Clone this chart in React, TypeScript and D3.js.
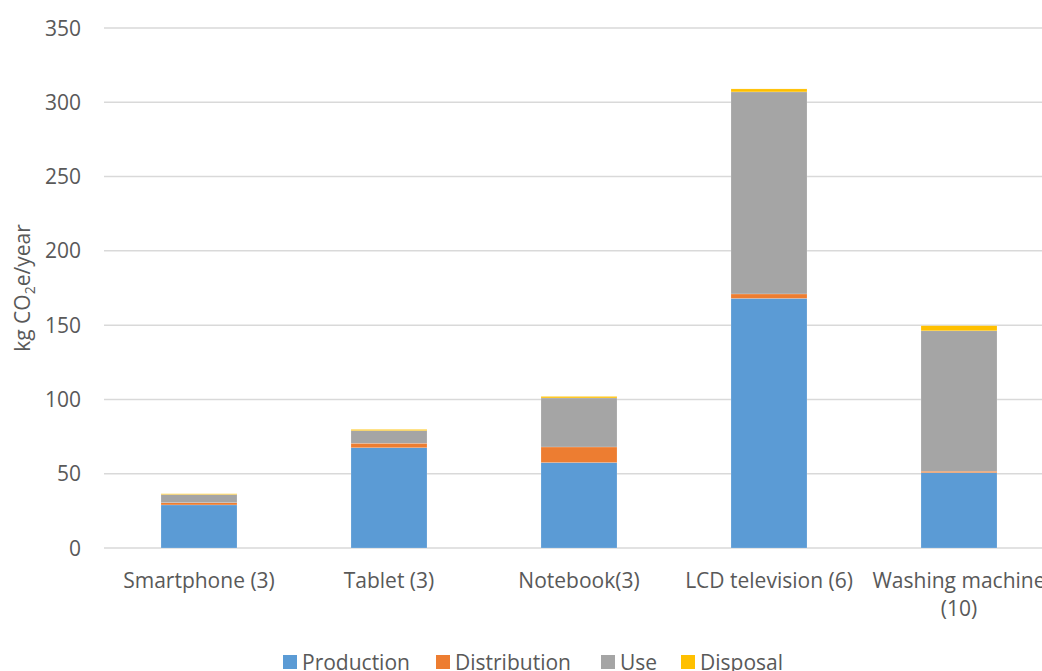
import React from "react";
import * as d3 from "d3";

const categories = [
  ["Smartphone (3)"],
  ["Tablet (3)"],
  ["Notebook(3)"],
  ["LCD television (6)"],
  ["Washing machine", "(10)"],
];
const seriesNames = ["Production", "Distribution", "Use", "Disposal"];
const seriesColors = ["#5b9bd5", "#ed7d31", "#a5a5a5", "#ffc000"];
const production = [29, 67.5, 57.5, 168, 50.7];
const distribution = [1.5, 3, 10.5, 3, 1];
const use = [5.5, 8.5, 33, 136, 94.5];
const disposal = [0.5, 0.8, 1, 2, 3.4];
const yTicks = [0, 50, 100, 150, 200, 250, 300, 350];

const W = 1042;
const H = 671;
const margin = { left: 104, top: 28, bottom: 123 };
const plotRight = 1054;
const font = "'Open Sans', sans-serif";
const textColor = "#595959";
const fs = 21;

export default function App() {
  const rows = categories.map((c, i) => ({
    key: String(i),
    Production: production[i],
    Distribution: distribution[i],
    Use: use[i],
    Disposal: disposal[i],
  }));
  const stack = d3.stack<any>().keys(seriesNames)(rows);

  const x = d3
    .scaleBand<string>()
    .domain(rows.map((r) => r.key))
    .range([margin.left, plotRight])
    .paddingInner(0.6)
    .paddingOuter(0.3);
  const y = d3
    .scaleLinear()
    .domain([0, 350])
    .range([H - margin.bottom, margin.top]);

  const legendX = [283, 436, 601, 681];

  return (
    <svg
      width={W}
      height={H}
      style={{ position: "absolute", left: 0, top: 0, background: "#fff" }}
      fontFamily={font}
    >
      {yTicks.map((t) => (
        <g key={t}>
          <line
            x1={margin.left}
            x2={W}
            y1={y(t)}
            y2={y(t)}
            stroke="#d9d9d9"
            strokeWidth={1.5}
          />
          <text
            x={81}
            y={y(t)}
            dy="0.36em"
            textAnchor="end"
            fontSize={fs}
            fill={textColor}
          >
            {t}
          </text>
        </g>
      ))}

      {stack.map((s, si) => (
        <g key={s.key} fill={seriesColors[si]}>
          {s.map((d, i) => (
            <rect
              key={i}
              x={x(rows[i].key)}
              width={x.bandwidth()}
              y={y(d[1])}
              height={Math.max(0, y(d[0]) - y(d[1]))}
              stroke="#ffffff"
              strokeOpacity={0.35}
              strokeWidth={0.5}
            />
          ))}
        </g>
      ))}

      {categories.map((lines, i) => {
        const cx = (x(rows[i].key) as number) + x.bandwidth() / 2;
        return (
          <text
            key={i}
            x={cx}
            y={588}
            textAnchor="middle"
            fontSize={fs}
            fill={textColor}
          >
            {lines.map((l, li) => (
              <tspan key={li} x={cx} dy={li === 0 ? 0 : 28}>
                {l}
              </tspan>
            ))}
          </text>
        );
      })}

      <text
        transform={`translate(30, ${(y(0) + y(350)) / 2}) rotate(-90)`}
        textAnchor="middle"
        fontSize={fs}
        fill={textColor}
      >
        kg CO
        <tspan fontSize={14} dy={5}>
          2
        </tspan>
        <tspan dy={-5}>e/year</tspan>
      </text>

      {seriesNames.map((n, i) => (
        <g key={n}>
          <rect
            x={legendX[i]}
            y={655}
            width={14}
            height={14}
            fill={seriesColors[i]}
          />
          <text
            x={legendX[i] + 19}
            y={662}
            dy="0.36em"
            fontSize={fs}
            fill={textColor}
          >
            {n}
          </text>
        </g>
      ))}
    </svg>
  );
}
